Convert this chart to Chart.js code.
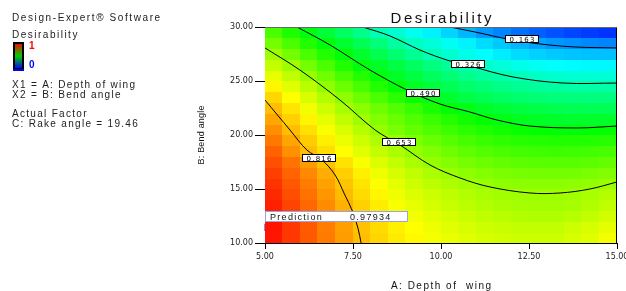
<!DOCTYPE html>
<html>
<head>
<meta charset="utf-8">
<script src="https://cdn.jsdelivr.net/npm/chart.js@4.4.1/dist/chart.umd.min.js"></script>
<style>
  html, body { margin: 0; padding: 0; background: #fff; }
</style>
</head>
<body>
<canvas id="chart" width="626" height="291"></canvas>
<script>
// grid cell centres (A: depth of wing, B: bend angle)
const xCenters = [5.25, 5.75, 6.25, 6.75, 7.25, 7.75, 8.25, 8.75, 9.25, 9.75,
                  10.25, 10.75, 11.25, 11.75, 12.25, 12.75, 13.25, 13.75, 14.25, 14.75];
const yCenters = [10.5, 11.5, 12.5, 13.5, 14.5, 15.5, 16.5, 17.5, 18.5, 19.5,
                  20.5, 21.5, 22.5, 23.5, 24.5, 25.5, 26.5, 27.5, 28.5, 29.5];

// desirability, one row per yCenters entry (bottom to top)
const desirability = [
  [0.979, 0.946, 0.913, 0.879, 0.846, 0.813, 0.790, 0.770, 0.755, 0.740, 0.730, 0.720, 0.710, 0.705, 0.700, 0.700, 0.700, 0.710, 0.720, 0.740],
  [0.980, 0.946, 0.912, 0.877, 0.843, 0.810, 0.785, 0.765, 0.750, 0.735, 0.720, 0.710, 0.700, 0.695, 0.690, 0.690, 0.690, 0.700, 0.710, 0.725],
  [0.976, 0.941, 0.906, 0.871, 0.836, 0.803, 0.778, 0.755, 0.738, 0.723, 0.710, 0.698, 0.688, 0.680, 0.675, 0.673, 0.673, 0.678, 0.690, 0.705],
  [0.969, 0.934, 0.898, 0.863, 0.827, 0.795, 0.768, 0.745, 0.726, 0.710, 0.696, 0.684, 0.674, 0.666, 0.661, 0.659, 0.659, 0.663, 0.672, 0.687],
  [0.960, 0.924, 0.888, 0.853, 0.817, 0.785, 0.758, 0.735, 0.715, 0.700, 0.686, 0.674, 0.665, 0.659, 0.656, 0.655, 0.655, 0.658, 0.665, 0.675],
  [0.950, 0.914, 0.878, 0.842, 0.808, 0.776, 0.748, 0.723, 0.702, 0.685, 0.670, 0.658, 0.648, 0.640, 0.636, 0.634, 0.635, 0.638, 0.645, 0.652],
  [0.938, 0.902, 0.866, 0.830, 0.797, 0.765, 0.735, 0.709, 0.687, 0.668, 0.651, 0.639, 0.629, 0.621, 0.616, 0.613, 0.612, 0.614, 0.619, 0.626],
  [0.923, 0.886, 0.848, 0.810, 0.777, 0.745, 0.716, 0.690, 0.667, 0.646, 0.629, 0.616, 0.605, 0.597, 0.591, 0.587, 0.586, 0.587, 0.591, 0.597],
  [0.903, 0.859, 0.815, 0.782, 0.750, 0.720, 0.692, 0.667, 0.645, 0.625, 0.607, 0.592, 0.580, 0.571, 0.564, 0.560, 0.558, 0.559, 0.563, 0.569],
  [0.882, 0.838, 0.800, 0.765, 0.731, 0.700, 0.672, 0.646, 0.623, 0.602, 0.584, 0.568, 0.555, 0.545, 0.537, 0.532, 0.530, 0.530, 0.533, 0.538],
  [0.860, 0.813, 0.779, 0.745, 0.712, 0.678, 0.646, 0.620, 0.597, 0.577, 0.559, 0.543, 0.529, 0.517, 0.507, 0.500, 0.496, 0.494, 0.495, 0.498],
  [0.837, 0.795, 0.760, 0.724, 0.689, 0.654, 0.627, 0.602, 0.578, 0.556, 0.535, 0.515, 0.497, 0.482, 0.471, 0.464, 0.459, 0.456, 0.456, 0.458],
  [0.813, 0.775, 0.738, 0.701, 0.664, 0.634, 0.607, 0.580, 0.552, 0.525, 0.498, 0.477, 0.460, 0.446, 0.436, 0.428, 0.423, 0.420, 0.418, 0.418],
  [0.789, 0.750, 0.712, 0.674, 0.638, 0.605, 0.573, 0.540, 0.507, 0.476, 0.452, 0.432, 0.416, 0.403, 0.393, 0.386, 0.380, 0.377, 0.375, 0.376],
  [0.759, 0.720, 0.681, 0.643, 0.606, 0.570, 0.533, 0.497, 0.466, 0.440, 0.417, 0.397, 0.381, 0.367, 0.356, 0.347, 0.340, 0.336, 0.334, 0.335],
  [0.727, 0.688, 0.649, 0.610, 0.571, 0.532, 0.492, 0.462, 0.434, 0.408, 0.385, 0.364, 0.345, 0.330, 0.316, 0.305, 0.297, 0.292, 0.290, 0.290],
  [0.692, 0.654, 0.613, 0.572, 0.531, 0.490, 0.462, 0.434, 0.406, 0.378, 0.350, 0.323, 0.302, 0.285, 0.271, 0.260, 0.252, 0.247, 0.244, 0.243],
  [0.655, 0.614, 0.573, 0.532, 0.492, 0.457, 0.424, 0.390, 0.357, 0.324, 0.296, 0.271, 0.249, 0.231, 0.216, 0.205, 0.197, 0.192, 0.189, 0.189],
  [0.614, 0.573, 0.531, 0.490, 0.453, 0.417, 0.380, 0.343, 0.312, 0.287, 0.262, 0.238, 0.216, 0.196, 0.178, 0.160, 0.149, 0.141, 0.134, 0.130],
  [0.572, 0.528, 0.485, 0.445, 0.405, 0.365, 0.325, 0.296, 0.267, 0.237, 0.208, 0.179, 0.150, 0.130, 0.110, 0.094, 0.080, 0.068, 0.058, 0.050]
];

// contour lines, [A, B] points
const contour163 = [[10.26, 30], [11.11, 29.44], [11.88, 28.89], [12.81, 28.43], [13.81, 28.15], [15, 28.06]];
const contour326 = [[7.78, 30], [8.55, 29.17], [9.40, 27.87], [10.17, 26.94], [10.82, 26.39], [12.05, 25.37], [13.47, 24.81], [15, 24.81]];
const contour490 = [[5.91, 30], [6.85, 28.33], [7.98, 26.02], [9.03, 24.17], [9.97, 22.87], [10.82, 22.13], [11.59, 21.39], [12.53, 20.83], [13.86, 20.65], [15, 20.83]];
const contour653 = [[5, 28.06], [5.99, 26.02], [7.13, 23.24], [8.13, 20.46], [8.84, 19.07], [9.69, 17.22], [10.54, 16.02], [11.39, 15.19], [12.53, 14.63], [13.38, 14.63], [14.23, 15.0], [15, 15.65]];
const contour816 = [[5, 23.24], [5.71, 20.46], [6.19, 18.61], [6.62, 17.69], [6.99, 16.30], [7.27, 14.44], [7.47, 13.06], [7.64, 11.39], [7.73, 10]];

const contourLevels = ['0.163', '0.326', '0.490', '0.653', '0.816'];
const contourLabelAt = [[12.30, 28.89], [10.77, 26.57], [9.49, 23.89], [8.81, 19.35], [6.53, 17.87]];

const xTicks = [5, 7.5, 10, 12.5, 15];
const yTicks = [10, 15, 20, 25, 30];

const predictionPoint = [5.0, 11.4];
const predictionValue = '0.97934';

// blue -> cyan -> green -> yellow -> red
const colorStops = [[0, [0, 0, 255]], [0.25, [0, 255, 255]], [0.5, [0, 255, 0]], [0.75, [255, 255, 0]], [1, [255, 0, 0]]];
function colorFor(v) {
  v = Math.max(0, Math.min(1, v));
  for (let i = 1; i < colorStops.length; i++) {
    const [v1, c1] = colorStops[i];
    const [v0, c0] = colorStops[i - 1];
    if (v <= v1) {
      const t = (v - v0) / (v1 - v0);
      const c = c0.map((a, k) => Math.round(a + (c1[k] - a) * t));
      return 'rgb(' + c.join(',') + ')';
    }
  }
  return 'rgb(255,0,0)';
}

function spacedText(ctx, text, x, y, font, spacing, color, align) {
  ctx.save();
  ctx.font = font;
  ctx.fillStyle = color;
  ctx.letterSpacing = spacing + 'px';
  ctx.textAlign = 'left';
  ctx.textBaseline = 'alphabetic';
  let w = ctx.measureText(text).width;
  let sx = x;
  if (align === 'center') sx = x - (w - spacing) / 2;
  ctx.fillText(text, sx, y);
  ctx.restore();
}

const heatmap = {
  id: 'heatmap',
  beforeDatasetsDraw(chart) {
    const {ctx, chartArea, scales: {x, y}} = chart;
    const hx = (xCenters[1] - xCenters[0]) / 2;
    const hy = (yCenters[1] - yCenters[0]) / 2;
    ctx.save();
    ctx.beginPath();
    ctx.rect(chartArea.left, chartArea.top, chartArea.right - chartArea.left, chartArea.bottom - chartArea.top);
    ctx.clip();
    desirability.forEach((row, i) => {
      const top = Math.floor(y.getPixelForValue(yCenters[i] + hy));
      const bot = Math.ceil(y.getPixelForValue(yCenters[i] - hy));
      row.forEach((v, j) => {
        const l = Math.floor(x.getPixelForValue(xCenters[j] - hx));
        const r = Math.ceil(x.getPixelForValue(xCenters[j] + hx));
        ctx.fillStyle = colorFor(v);
        ctx.fillRect(l, top, r - l, bot - top);
      });
    });
    ctx.restore();
  },
  afterDatasetsDraw(chart) {
    const {ctx, chartArea, scales: {x, y}} = chart;
    // frame
    ctx.save();
    ctx.strokeStyle = '#000';
    ctx.lineWidth = 1;
    ctx.beginPath();
    ctx.moveTo(chartArea.right - 0.5, chartArea.top);
    ctx.lineTo(chartArea.right - 0.5, chartArea.bottom);
    ctx.stroke();
    ctx.strokeStyle = '#666';
    ctx.beginPath();
    ctx.moveTo(chartArea.left, chartArea.top + 0.5);
    ctx.lineTo(chartArea.right, chartArea.top + 0.5);
    ctx.stroke();

    // contour labels
    contourLevels.forEach((lab, i) => {
      const px = Math.round(x.getPixelForValue(contourLabelAt[i][0]));
      const py = Math.round(y.getPixelForValue(contourLabelAt[i][1]));
      ctx.fillStyle = '#fff';
      ctx.fillRect(px - 17, py - 4, 34, 8);
      ctx.strokeStyle = '#000';
      ctx.lineWidth = 1;
      ctx.strokeRect(px - 16.5, py - 3.5, 33, 7);
      spacedText(ctx, lab, px, py + 3, '7px "DejaVu Sans"', 1.2, '#000', 'center');
    });

    // prediction flag
    const fx = Math.round(x.getPixelForValue(predictionPoint[0]));
    const fy = Math.round(y.getPixelForValue(predictionPoint[1]));
    ctx.fillStyle = '#fff';
    ctx.fillRect(fx, fy - 17, 143, 11);
    ctx.strokeStyle = '#9aa0ea';
    ctx.strokeRect(fx + 0.5, fy - 16.5, 142, 10);
    spacedText(ctx, 'Prediction', fx + 5, fy - 8, '9px "Liberation Sans"', 1.3, '#111', 'left');
    spacedText(ctx, predictionValue, fx + 85, fy - 8, '9px "Liberation Sans"', 1.3, '#111', 'left');
    ctx.strokeStyle = '#8c8ce0';
    ctx.beginPath();
    ctx.moveTo(fx - 0.5, fy - 4);
    ctx.lineTo(fx - 0.5, fy + 3);
    ctx.stroke();
    ctx.restore();
  },
  afterDraw(chart) {
    const ctx = chart.ctx;
    const ca = chart.chartArea;
    const cx = (ca.left + ca.right) / 2;
    spacedText(ctx, 'Desirability', cx, 23, '15px "Liberation Sans"', 2.5, '#111', 'center');
    spacedText(ctx, 'A: Depth of  wing', cx, 289, '10px "Liberation Sans"', 1.5, '#111', 'center');

    ctx.save();
    ctx.translate(204, (ca.top + ca.bottom) / 2);
    ctx.rotate(-Math.PI / 2);
    spacedText(ctx, 'B: Bend angle', 0, 0, '9px "Liberation Sans"', 0.2, '#111', 'center');
    ctx.restore();

    // side panel
    const f = '10px "Liberation Sans"';
    spacedText(ctx, 'Design-Expert\u00ae Software', 12, 21, f, 1.6, '#222', 'left');
    spacedText(ctx, 'Desirability', 12, 38, f, 1.5, '#222', 'left');
    ctx.save();
    const g = ctx.createLinearGradient(0, 43, 0, 69);
    g.addColorStop(0, '#ff0000');
    g.addColorStop(0.5, '#00d000');
    g.addColorStop(1, '#0000ff');
    ctx.fillStyle = g;
    ctx.fillRect(14, 43, 9, 26);
    ctx.strokeStyle = '#000';
    ctx.lineWidth = 2;
    ctx.strokeRect(14, 43, 9, 26);
    ctx.strokeStyle = '#0000ff';
    ctx.beginPath();
    ctx.moveTo(13, 70);
    ctx.lineTo(24, 70);
    ctx.stroke();
    ctx.restore();
    spacedText(ctx, '1', 29, 49, 'bold 10px "Liberation Sans"', 0, '#ff0000', 'left');
    spacedText(ctx, '0', 29, 68, 'bold 10px "Liberation Sans"', 0, '#0000ff', 'left');
    spacedText(ctx, 'X1 = A: Depth of wing', 12, 88, f, 1.3, '#222', 'left');
    spacedText(ctx, 'X2 = B: Bend angle', 12, 98, f, 1.3, '#222', 'left');
    spacedText(ctx, 'Actual Factor', 12, 117, f, 1.3, '#222', 'left');
    spacedText(ctx, 'C: Rake angle = 19.46', 12, 127, f, 1.3, '#222', 'left');
  }
};

function contourSet(pts) {
  return {
    data: pts.map(p => ({x: p[0], y: p[1]})),
    borderColor: '#000',
    borderWidth: 1,
    pointRadius: 0,
    tension: 0.35,
    fill: false
  };
}

new Chart(document.getElementById('chart'), {
  type: 'line',
  data: {
    datasets: [contour163, contour326, contour490, contour653, contour816].map(contourSet)
  },
  options: {
    responsive: false,
    animation: false,
    devicePixelRatio: 1,
    layout: {padding: {left: 215, top: 27, right: 9, bottom: 0}},
    plugins: {legend: {display: false}, tooltip: {enabled: false}, title: {display: false}},
    scales: {
      x: {
        type: 'linear',
        min: 5,
        max: 15,
        afterBuildTicks: (s) => { s.ticks = xTicks.map(v => ({value: v})); },
        afterFit: (s) => { s.height = 48; s.paddingLeft = 0; s.paddingRight = 0; },
        ticks: {
          callback: (v) => Number(v).toFixed(2),
          autoSkip: false,
          maxRotation: 0,
          padding: 3,
          color: '#222',
          font: {family: 'DejaVu Sans', size: 8}
        },
        grid: {drawOnChartArea: false, drawTicks: true, tickLength: 6, color: '#000'},
        border: {display: true, color: '#000', width: 1}
      },
      y: {
        type: 'linear',
        min: 10,
        max: 30,
        afterBuildTicks: (s) => { s.ticks = yTicks.map(v => ({value: v})); },
        afterFit: (s) => { s.width = 50; s.paddingTop = 0; s.paddingBottom = 0; },
        ticks: {
          callback: (v) => Number(v).toFixed(2),
          autoSkip: false,
          padding: 2,
          color: '#222',
          font: {family: 'DejaVu Sans', size: 8}
        },
        grid: {drawOnChartArea: false, drawTicks: true, tickLength: 10, color: '#000'},
        border: {display: true, color: '#000', width: 1}
      }
    }
  },
  plugins: [heatmap]
});
</script>
</body>
</html>
